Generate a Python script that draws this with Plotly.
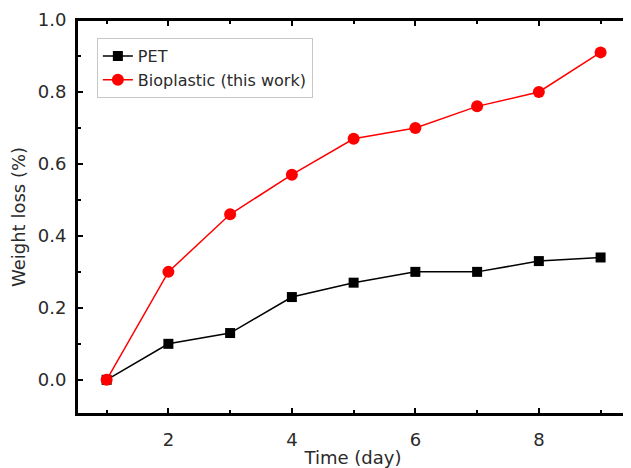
import plotly.graph_objects as go

days = [1, 2, 3, 4, 5, 6, 7, 8, 9]
pet = [0.0, 0.10, 0.13, 0.23, 0.27, 0.30, 0.30, 0.33, 0.34]
bio = [0.0, 0.30, 0.46, 0.57, 0.67, 0.70, 0.76, 0.80, 0.91]
x_major = [2, 4, 6, 8]
x_minor = [1, 3, 5, 7, 9]
y_major = [0.0, 0.2, 0.4, 0.6, 0.8, 1.0]
y_labels = ["0.0", "0.2", "0.4", "0.6", "0.8", "1.0"]
y_minor = [0.1, 0.3, 0.5, 0.7, 0.9]
x_range = [0.52, 9.46]
y_range = [-0.095, 1.0]

FONT = "DejaVu Sans, Arial"
TXT = "#2a2a2a"

fig = go.Figure()
fig.add_trace(go.Scatter(x=days, y=pet, mode="lines+markers", name="PET",
                         line=dict(color="black", width=1.5),
                         marker=dict(symbol="square", size=10, color="black")))
fig.add_trace(go.Scatter(x=days, y=bio, mode="lines+markers", name="Bioplastic (this work)",
                         line=dict(color="#ff0000", width=1.5),
                         marker=dict(symbol="circle", size=12, color="#ff0000")))

axis_common = dict(showline=True, linecolor="black", linewidth=2, mirror="allticks",
                   ticks="inside", ticklen=6, tickwidth=1.5, tickcolor="black",
                   showgrid=False, zeroline=False,
                   tickfont=dict(family=FONT, size=18, color=TXT))

fig.update_layout(
    xaxis=dict(range=x_range, tickvals=x_major, ticklabelstandoff=8,
               minor=dict(tickvals=x_minor, ticks="inside", ticklen=4, tickcolor="black", tickwidth=1.5),
               title=dict(text="Time (day)", standoff=4, font=dict(family=FONT, size=18, color=TXT)),
               **axis_common),
    yaxis=dict(range=y_range, tickvals=y_major, ticktext=y_labels, ticklabelstandoff=5,
               minor=dict(tickvals=y_minor, ticks="inside", ticklen=4, tickcolor="black", tickwidth=1.5),
               title=dict(text="Weight loss (%)", standoff=8, font=dict(family=FONT, size=18, color=TXT)),
               **axis_common),
)

# plot frame
fig.add_shape(type="rect", xref="paper", yref="paper", x0=0, y0=0, x1=1, y1=1,
              line=dict(color="black", width=2), layer="above")

# page body has an 8px default margin, so the figure is sized/offset to compensate
fig.update_layout(width=623, height=460, margin=dict(l=69, r=2, t=12, b=54, autoexpand=False),
                  plot_bgcolor="white", paper_bgcolor="white",
                  legend=dict(x=0.036, y=0.954, xanchor="left", yanchor="top",
                              bgcolor="white", bordercolor="#c8c8c8", borderwidth=1,
                              font=dict(family=FONT, size=16, color=TXT),
                              tracegroupgap=0, itemwidth=30))

fig.write_html("out.html")
